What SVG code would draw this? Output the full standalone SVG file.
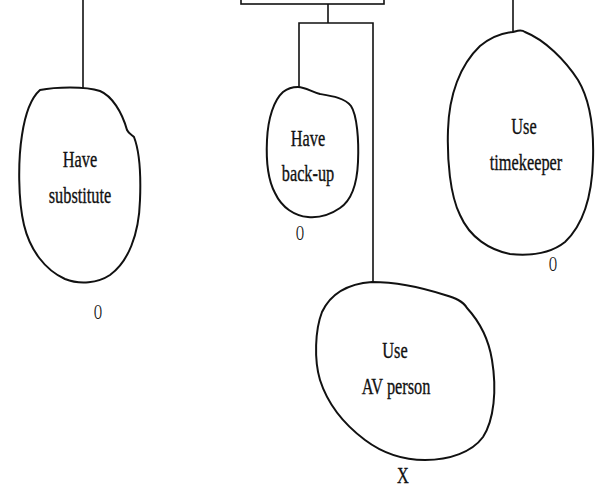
<svg xmlns="http://www.w3.org/2000/svg" width="597" height="491" viewBox="0 0 597 491">
<style>
.blob{fill:#fff;stroke:#111;stroke-width:2;stroke-linejoin:round}
.ln{fill:none;stroke:#111;stroke-width:1.6}
.t{font-family:"Liberation Serif","Times New Roman",serif;font-size:24px;fill:#111;stroke:#111;stroke-width:0.35;text-anchor:middle}
.m{font-family:"Liberation Serif","Times New Roman",serif;font-size:20px;fill:#111;text-anchor:middle}
</style>
<rect width="597" height="491" fill="#fff"/>
<g id="connectors">
<rect class="ln" x="241" y="-4" width="143" height="8"/>
<path class="ln" d="M83,0 V89"/>
<path class="ln" d="M513,0 V32"/>
<path class="ln" d="M328,4 V23 M299,87 V23 H373 V282"/>
</g>
<g id="have-substitute">
<path class="blob" d="M40,90 C55,87 85,86 100,91 C112,96 122,112 127,130 C129,134 132,135 134,137 C139,150 141,175 140,200 C139,235 128,262 110,275 C98,283 80,285 65,279 C45,270 30,250 24,225 C18,200 18,160 22,135 C25,115 31,98 40,90 Z"/>
<text class="t" transform="translate(80,167) scale(0.68,1)">Have</text>
<text class="t" transform="translate(80,203) scale(0.68,1)">substitute</text>
<text class="m" transform="translate(98,319) scale(0.55,1)">O</text>
</g>
<g id="have-backup">
<path class="blob" d="M298,87 C305,87 312,92 320,94 C332,96 345,98 351,106 C357,115 359,140 358,162 C357,185 352,200 340,208 C330,215 320,218 308,217 C295,216 282,208 275,193 C268,180 266,160 267,140 C268,118 274,100 283,92 C288,88 293,87 298,87 Z"/>
<text class="t" transform="translate(308,146) scale(0.68,1)">Have</text>
<text class="t" transform="translate(308,181) scale(0.68,1)">back-up</text>
<text class="m" transform="translate(300,240) scale(0.55,1)">O</text>
</g>
<g id="use-timekeeper">
<path class="blob" d="M513,32 C517,31 521,29 525,32 C545,40 565,60 578,80 C590,100 594,130 593,160 C592,195 583,225 565,242 C550,254 530,256 510,254 C490,250 470,238 460,215 C450,195 447,160 448,130 C449,95 460,65 480,46 C490,38 502,33 513,32 Z"/>
<text class="t" transform="translate(524,134) scale(0.68,1)">Use</text>
<text class="t" transform="translate(526,170) scale(0.68,1)">timekeeper</text>
<text class="m" transform="translate(553,271) scale(0.55,1)">O</text>
</g>
<g id="use-av-person">
<path class="blob" d="M372,282 C395,282 420,287 445,295 C455,298 463,301 467,308 C478,320 488,335 492,360 C497,390 494,420 483,437 C472,452 450,460 425,460 C405,460 385,455 365,440 C345,425 328,405 320,380 C314,360 315,330 322,312 C330,295 345,284 372,282 Z"/>
<text class="t" transform="translate(395,358) scale(0.68,1)">Use</text>
<text class="t" transform="translate(396,394) scale(0.68,1)">AV person</text>
<text class="t" transform="translate(403,483) scale(0.68,1)">X</text>
</g>
</svg>
